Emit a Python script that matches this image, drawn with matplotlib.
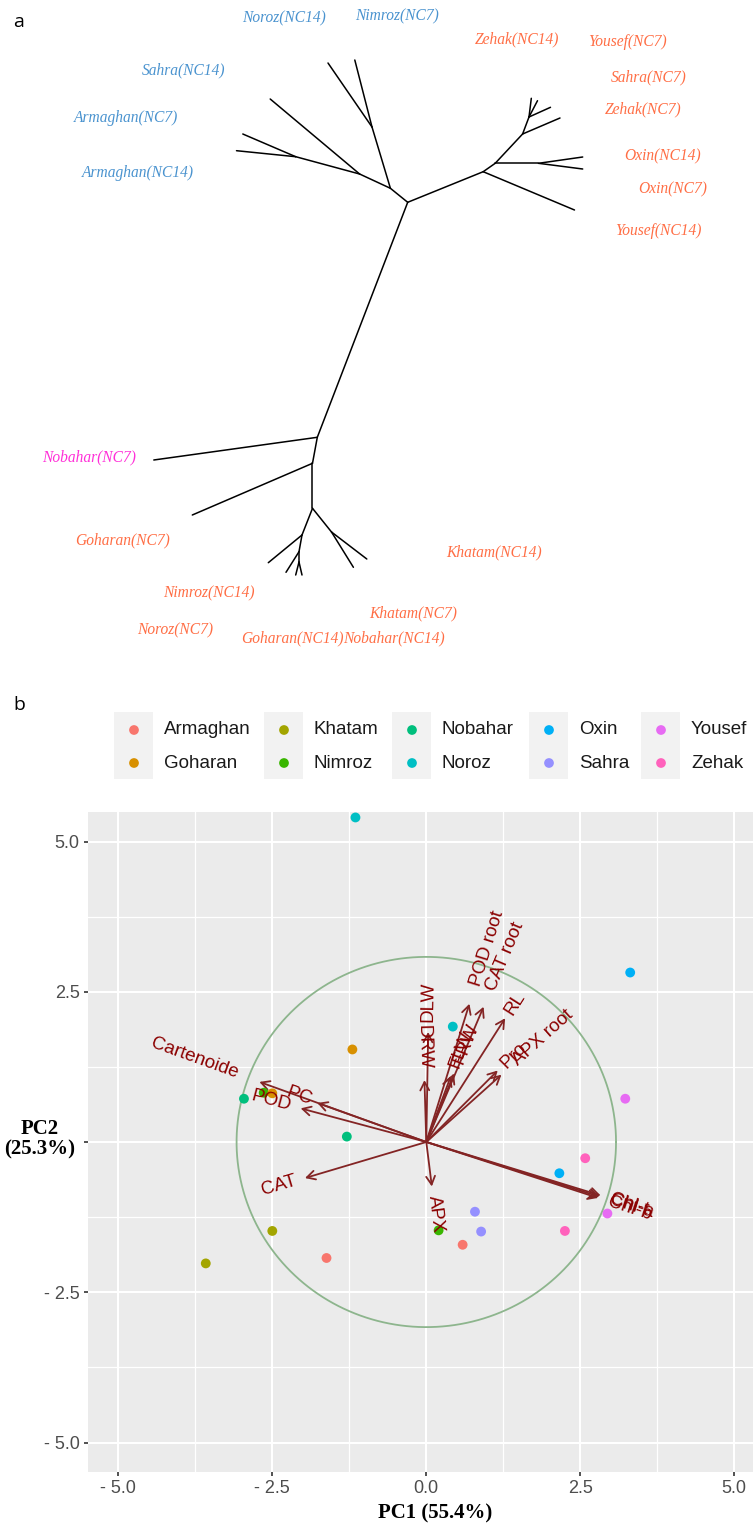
import numpy as np
import matplotlib
matplotlib.use("Agg")
import matplotlib.pyplot as plt
from matplotlib.patches import FancyArrowPatch, Rectangle
from matplotlib.ticker import FixedLocator, FixedFormatter

W, H, DPI = 753, 1524, 100

# ---------------- panel a: unrooted cluster tree ----------------
node_ids = ["A", "B", "C", "D", "E", "G", "H", "F", "I", "J", "K", "L",
            "M", "N", "O", "P", "Q"]
node_x = [407.7, 317.3, 312.5, 312.5, 302.0, 299.0, 299.0, 331.5, 390.4,
          372.0, 359.6, 295.7, 483.2, 495.2, 538.5, 522.6, 529.0]
node_y = [202.3, 437.3, 463.3, 508.3, 535.0, 551.7, 562.0, 532.0, 188.3,
          127.0, 174.0, 156.7, 171.7, 163.3, 163.3, 134.0, 117.0]
inner_edges = [("A", "B"), ("B", "C"), ("C", "D"), ("D", "E"), ("E", "G"),
               ("G", "H"), ("D", "F"), ("A", "I"), ("I", "J"), ("I", "K"),
               ("K", "L"), ("A", "M"), ("M", "N"), ("N", "O"), ("N", "P"),
               ("P", "Q")]
tip_parent = ["B", "C", "E", "G", "H", "H", "F", "F", "J", "J", "K", "L",
              "L", "M", "O", "O", "P", "Q", "Q", "Q"]
tip_x = [153.8, 192.3, 268.3, 286.0, 295.7, 302.0, 353.4, 366.8, 354.8,
         328.0, 270.2, 242.8, 236.5, 574.5, 582.7, 582.7, 560.0, 550.5,
         537.5, 531.3]
tip_y = [460.0, 515.0, 562.7, 572.3, 575.0, 575.0, 567.3, 559.0, 60.0,
         63.0, 99.0, 134.0, 150.7, 210.0, 157.0, 169.0, 118.0, 107.3,
         100.7, 98.3]

tree_labels = ["Noroz(NC14)", "Nimroz(NC7)", "Zehak(NC14)", "Yousef(NC7)",
               "Sahra(NC14)", "Sahra(NC7)", "Armaghan(NC7)", "Zehak(NC7)",
               "Armaghan(NC14)", "Oxin(NC14)", "Oxin(NC7)", "Yousef(NC14)",
               "Nobahar(NC7)", "Goharan(NC7)", "Khatam(NC14)", "Nimroz(NC14)",
               "Khatam(NC7)", "Noroz(NC7)", "Goharan(NC14)", "Nobahar(NC14)"]
tree_label_x = [284, 397, 517, 627, 184, 649, 126, 643, 138, 663, 673, 658,
                89, 123, 494, 209, 413, 175, 292, 394]
tree_label_y = [18, 16, 39, 42, 70, 77, 118, 109, 173, 156, 189, 231,
                457, 540, 552, 593, 613, 630, 638, 638]
tree_label_group = ["g1", "g1", "g2", "g2", "g1", "g2", "g1", "g2", "g1",
                    "g2", "g2", "g2", "g3", "g2", "g2", "g2", "g2", "g2",
                    "g2", "g2"]
group_colors = {"g1": "#4A93CF", "g2": "#FF6E45", "g3": "#FF2FD8"}

# ---------------- panel b: PCA biplot ----------------
cultivars = ["Armaghan", "Goharan", "Khatam", "Nimroz", "Nobahar",
             "Noroz", "Oxin", "Sahra", "Yousef", "Zehak"]
cultivar_colors = ["#F8766D", "#D89000", "#A3A500", "#39B600", "#00BF7D",
                   "#00BFC4", "#00B0F6", "#9590FF", "#E76BF3", "#FF62BC"]

sample_cultivar = ["Armaghan", "Armaghan", "Khatam", "Khatam", "Nimroz",
                   "Nimroz", "Goharan", "Goharan", "Nobahar", "Nobahar",
                   "Noroz", "Noroz", "Oxin", "Oxin", "Sahra", "Sahra",
                   "Yousef", "Yousef", "Zehak", "Zehak"]
sample_pc1 = [0.59, -1.62, -2.50, -3.58, -2.64, 0.20, -1.20, -2.50, -2.96,
              -1.29, -1.15, 0.43, 3.31, 2.16, 0.79, 0.89, 3.23, 2.94, 2.58,
              2.25]
sample_pc2 = [-1.71, -1.93, -1.48, -2.02, 0.82, -1.47, 1.54, 0.81, 0.72,
              0.09, 5.40, 1.92, 2.82, -0.52, -1.16, -1.49, 0.72, -1.19,
              -0.27, -1.48]

var_names = ["Cartenoide", "PC", "POD", "CAT", "APX", "DRW", "DLW", "FLW",
             "FRW", "POD root", "CAT root", "RL", "Pro", "APX root",
             "Chl-b", "Chl-t", "Chl-a"]
var_pc1 = [-2.71, -1.77, -2.04, -1.97, 0.09, -0.03, 0.03, 0.40, 0.45, 0.70,
           0.93, 1.28, 1.16, 1.22, 2.79, 2.83, 2.81]
var_pc2 = [1.00, 0.65, 0.56, -0.60, -0.74, 1.03, 1.83, 1.10, 1.14, 2.30,
           2.25, 2.06, 1.19, 1.12, -0.93, -0.89, -0.91]
circle_radius = 3.08

pc1_label = "PC1 (55.4%)"
pc2_label = "PC2\n(25.3%)"
tick_values = [-5.0, -2.5, 0.0, 2.5, 5.0]
x_tick_labels = ["- 5.0", "- 2.5", "0.0", "2.5", "5.0"]
y_tick_labels = ["- 5.0", "- 2.5", "", "2.5", "5.0"]

# ---------------- figure ----------------
fig = plt.figure(figsize=(W / DPI, H / DPI), dpi=DPI)
fig.patch.set_facecolor("white")

# overlay in pixel coordinates for panel letters and the legend
ov = fig.add_axes([0, 0, 1, 1])
ov.set_xlim(0, W)
ov.set_ylim(H, 0)
ov.axis("off")

# tree
ax_a = fig.add_axes([0, 1 - 660 / H, 1, 660 / H])
ax_a.set_xlim(0, W)
ax_a.set_ylim(660, 0)
ax_a.axis("off")
pos = {n: (x, y) for n, x, y in zip(node_ids, node_x, node_y)}
for a, b in inner_edges:
    ax_a.plot([pos[a][0], pos[b][0]], [pos[a][1], pos[b][1]],
              color="black", lw=1.1, solid_capstyle="round")
for p, x, y in zip(tip_parent, tip_x, tip_y):
    ax_a.plot([pos[p][0], x], [pos[p][1], y], color="black", lw=1.1,
              solid_capstyle="round")
for lab, x, y, g in zip(tree_labels, tree_label_x, tree_label_y,
                        tree_label_group):
    ax_a.text(x, y, lab, ha="center", va="center", fontsize=11.2,
              family="Liberation Serif", style="italic",
              color=group_colors[g])

ov.text(13, 22, "a", fontsize=14, family="Open Sans", va="center", ha="left")
ov.text(13, 705, "b", fontsize=14, family="Open Sans", va="center", ha="left")

# legend
leg_dot_x = [134, 284, 412, 549, 661]
leg_row_y = [730, 763]
for i, (name, col) in enumerate(zip(cultivars, cultivar_colors)):
    c, r = divmod(i, 2)
    cx, cy = leg_dot_x[c], leg_row_y[r]
    ov.add_patch(Rectangle((cx - 20, cy - 18), 39, 34, facecolor="#F2F2F2",
                           edgecolor="none"))
    ov.scatter([cx], [cy], s=49, color=col, edgecolors="none", zorder=3)
    ov.text(cx + 30, cy, name, fontsize=13.5, family="Liberation Sans",
            va="center", ha="left", color="#1A1A1A")

# biplot panel
px_x, px_y = 61.6, 60.1
x0_px, y0_px = 426.3, 1142.0
left_px, top_px, bottom_px = 88.0, 812.0, 1472.0
xmin = (left_px - x0_px) / px_x
xmax = -xmin
ymax = (y0_px - top_px) / px_y
ymin = (y0_px - bottom_px) / px_y
ax = fig.add_axes([left_px / W, (H - bottom_px) / H,
                   (xmax - xmin) * px_x / W, (bottom_px - top_px) / H])
ax.set_xlim(xmin, xmax)
ax.set_ylim(ymin, ymax)
ax.set_facecolor("#EBEBEB")
for s in ax.spines.values():
    s.set_visible(False)
minor_vals = [-3.75, -1.25, 1.25, 3.75]
ax.xaxis.set_major_locator(FixedLocator(tick_values))
ax.yaxis.set_major_locator(FixedLocator(tick_values))
ax.xaxis.set_minor_locator(FixedLocator(minor_vals))
ax.yaxis.set_minor_locator(FixedLocator(minor_vals))
ax.xaxis.set_major_formatter(FixedFormatter(x_tick_labels))
ax.yaxis.set_major_formatter(FixedFormatter(y_tick_labels))
ax.grid(which="major", color="white", lw=1.5)
ax.grid(which="minor", color="white", lw=0.9)
ax.set_axisbelow(True)
ax.tick_params(which="major", length=3, width=1.2, color="#333333",
               labelsize=13, labelcolor="#4D4D4D", pad=3)
ax.tick_params(which="minor", length=0)
for t in ax.get_xticklabels() + ax.get_yticklabels():
    t.set_family("Liberation Sans")

theta = np.linspace(0, 2 * np.pi, 200)
ax.plot(circle_radius * np.cos(theta), circle_radius * np.sin(theta),
        color="#8DB58D", lw=1.3, zorder=2)

arrow_col = "#832424"
for vx, vy in zip(var_pc1, var_pc2):
    ax.add_patch(FancyArrowPatch((0, 0), (vx, vy),
                                 arrowstyle="->,head_length=6,head_width=3.2",
                                 mutation_scale=1, color=arrow_col, lw=1.3,
                                 shrinkA=0, shrinkB=0, zorder=3))

name_to_col = dict(zip(cultivars, cultivar_colors))
ax.scatter(sample_pc1, sample_pc2, s=50,
           c=[name_to_col[c] for c in sample_cultivar], edgecolors="none",
           zorder=4)

# variable names laid out along their arrows, starting beyond the tips
renderer = fig.canvas.get_renderer()
origin = ax.transData.transform((0, 0))
label_size = 13.5
for name, vx, vy in zip(var_names, var_pc1, var_pc2):
    tip = ax.transData.transform((vx, vy))
    d = tip - origin
    u = d / np.hypot(*d)
    ang = np.degrees(np.arctan2(d[1], d[0]))
    probe = ax.text(0, 0, name, fontsize=label_size, family="Liberation Sans")
    w = probe.get_window_extent(renderer).width
    probe.remove()
    off = 0.25 * w * u * 72.0 / DPI
    if vx >= 0:
        rot, ha = ang, "left"
    else:
        rot, ha = ang + 180, "right"
    ax.annotate(name, xy=(vx, vy), xytext=(off[0], off[1]),
                textcoords="offset points", rotation=rot,
                rotation_mode="anchor", ha=ha, va="center",
                fontsize=label_size, family="Liberation Sans",
                color="#8B0000", zorder=5, annotation_clip=False)

ov.text(435, 1513, pc1_label, fontsize=15, family="Liberation Serif",
        weight="bold", ha="center", va="center")
ov.text(40, 1139, pc2_label, fontsize=15, family="Liberation Serif",
        weight="bold", ha="center", va="center", linespacing=1.0)

fig.savefig("out.png", dpi=DPI)
